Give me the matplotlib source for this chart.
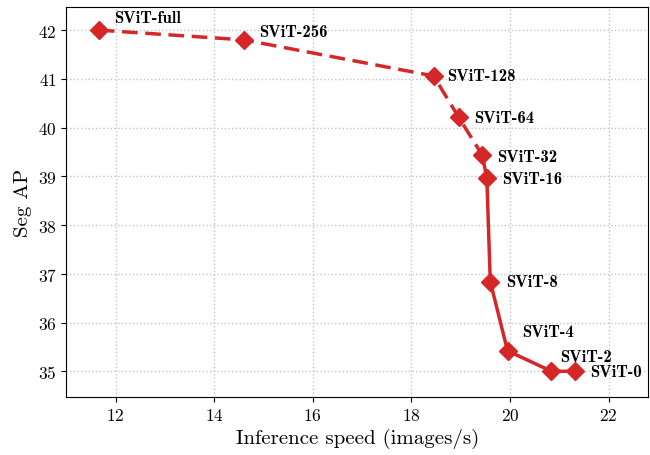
import numpy as np
import matplotlib
matplotlib.use("Agg")
import matplotlib.pyplot as plt

plt.rcParams['font.family'] = 'serif'
plt.rcParams['font.serif'] = ['cmr10']
plt.rcParams['mathtext.fontset'] = 'cm'
plt.rcParams['axes.formatter.use_mathtext'] = True

# data
names = ["SViT-full", "SViT-256", "SViT-128", "SViT-64", "SViT-32",
         "SViT-16", "SViT-8", "SViT-4", "SViT-2", "SViT-0"]
speed = [11.66, 14.6, 18.45, 18.96, 19.44, 19.53, 19.6, 19.95, 20.84, 21.31]
seg_ap = [42.0, 41.8, 41.06, 40.21, 39.43, 38.96, 36.84, 35.42, 35.0, 35.0]

# label offsets in pixels (dx, dy up)
offs = [(15, 13), (15, 8), (14, 0), (15, 0), (15, -1),
        (15, 0), (16, 0), (15, 19), (9, 15), (16, 0)]

col = '#d62728'
fig, ax = plt.subplots(figsize=(6.5, 4.56), dpi=100)
k = 4  # split between dashed and solid parts
ax.plot(speed[:k + 1], seg_ap[:k + 1], '--', color=col, lw=2.5, dashes=(4.5, 2.2), zorder=3)
ax.plot(speed[k:], seg_ap[k:], '-', color=col, lw=2.5, zorder=3)
ax.plot(speed, seg_ap, 'D', color=col, ms=9.5, zorder=4)

for n, x, y, (dx, dy) in zip(names, speed, seg_ap, offs):
    ax.annotate(n, (x, y), xytext=(dx * 0.72, dy * 0.72), textcoords='offset points',
                ha='left', va='center', fontsize=12, fontfamily='cmb10')

ax.set_xlim(11.0, 22.8)
ax.set_ylim(34.47, 42.47)
ax.set_xticks([12, 14, 16, 18, 20, 22])
ax.set_yticks([35, 36, 37, 38, 39, 40, 41, 42])
ax.tick_params(labelsize=12.5)
ax.grid(True, linestyle=':', color='#c4c4c4', lw=1)
ax.set_axisbelow(True)
ax.set_xlabel("Inference speed (images/s)", fontsize=15)
ax.set_ylabel("Seg AP", fontsize=15)

plt.subplots_adjust(left=0.102, right=0.997, top=0.982, bottom=0.127)
plt.savefig("out.png", dpi=100)
